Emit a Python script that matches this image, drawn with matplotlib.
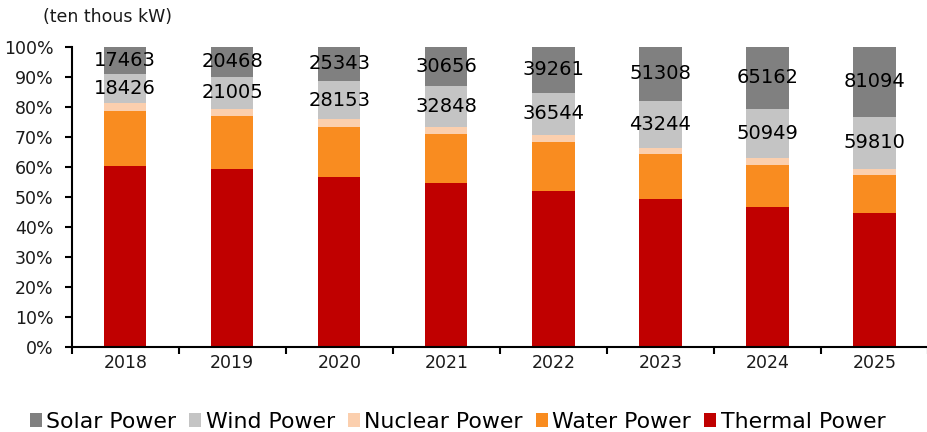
import matplotlib
matplotlib.use("Agg")
import matplotlib.pyplot as plt
from matplotlib.patches import Patch
import numpy as np

plt.rcParams['font.family'] = ['DejaVu Sans']

years = ["2018", "2019", "2020", "2021", "2022", "2023", "2024", "2025"]
# shares of installed capacity, percent
thermal = [60.1, 59.3, 56.6, 54.5, 51.9, 49.1, 46.6, 44.6]
water   = [18.6, 17.7, 16.7, 16.5, 16.2, 15.2, 14.0, 12.6]
nuclear = [2.4, 2.3, 2.5, 2.3, 2.5, 2.0, 2.3, 2.0]
wind    = [9.8, 10.6, 12.8, 13.7, 14.0, 15.6, 16.4, 17.4]
solar   = [9.1, 10.1, 11.4, 13.0, 15.4, 18.1, 20.7, 23.4]
# capacity labels (ten thousand kW)
wind_cap  = [18426, 21005, 28153, 32848, 36544, 43244, 50949, 59810]
solar_cap = [17463, 20468, 25343, 30656, 39261, 51308, 65162, 81094]

names  = ["Thermal Power", "Water Power", "Nuclear Power", "Wind Power", "Solar Power"]
colors = ["#C00000", "#F98C20", "#FBCFAE", "#C4C4C4", "#808080"]
series = [thermal, water, nuclear, wind, solar]

fig = plt.figure(figsize=(9.28, 4.32), dpi=100)
ax = fig.add_axes([0.0773, 0.1975, 0.9227, 0.6944])

x = np.arange(len(years))
bottom = np.zeros(len(years))
width = 0.395
for name, col, vals in zip(names, colors, series):
    v = np.array(vals)
    ax.bar(x, v, width, bottom=bottom, color=col, edgecolor='none')
    bottom = bottom + v

# labels
for i in range(len(years)):
    b_wind = thermal[i] + water[i] + nuclear[i]
    ax.text(x[i], b_wind + wind[i] / 2, str(wind_cap[i]), ha='center', va='center',
            fontsize=14, color='black')
    b_solar = b_wind + wind[i]
    ax.text(x[i], b_solar + solar[i] / 2, str(solar_cap[i]), ha='center', va='center',
            fontsize=14, color='black')

ax.set_xlim(-0.5, 7.425)
ax.set_ylim(0, 100)
ax.set_yticks(np.arange(0, 101, 10))
ax.set_yticklabels([f"{v}%" for v in range(0, 101, 10)], fontsize=12.5, color='#1a1a1a')
ax.set_xticks(x)
ax.set_xticklabels(years, fontsize=12.5, color='#1a1a1a')
ax.set_xticks(np.arange(-0.5, 8, 1.0), minor=True)
ax.tick_params(axis='x', which='major', length=0, pad=5)
ax.tick_params(axis='x', which='minor', length=5, width=1.5, direction='out', color='black')
ax.tick_params(axis='y', length=5, width=1.5, direction='out', color='black', pad=8)
for s in ['top', 'right']:
    ax.spines[s].set_visible(False)
ax.spines['left'].set_linewidth(1.5)
ax.spines['bottom'].set_linewidth(1.5)

fig.text(0.046, 0.96, "(ten thous kW)", fontsize=12.5, color='#1a1a1a', ha='left', va='center')

order = ["Solar Power", "Wind Power", "Nuclear Power", "Water Power", "Thermal Power"]
handles = [Patch(facecolor=colors[names.index(n)], edgecolor='none') for n in order]
fig.legend(handles, order, loc='lower center', bbox_to_anchor=(0.493, -0.045), ncol=5,
           frameon=False, fontsize=15.8, handlelength=0.55, handleheight=0.55,
           handletextpad=0.2, columnspacing=0.6)

fig.savefig("out.png", dpi=100)
